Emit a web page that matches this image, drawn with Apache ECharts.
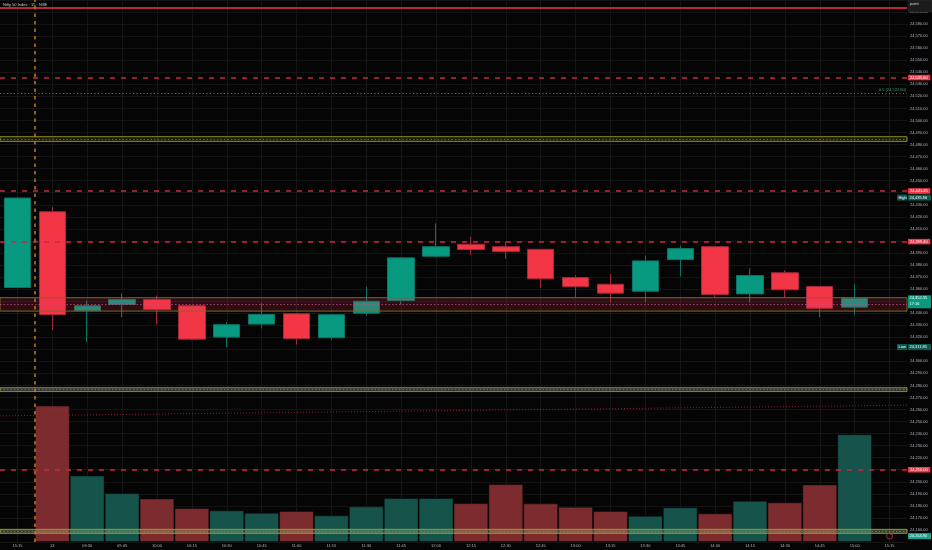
<!DOCTYPE html>
<html><head><meta charset="utf-8">
<script src="https://cdn.jsdelivr.net/npm/echarts@6/dist/echarts.min.js"></script>
<style>html,body{margin:0;padding:0;background:#050505;}#c{width:932px;height:550px;}</style>
</head><body><div id="c"></div>
<script>
// ---- data ----
const categories = ['12 15:15','13 09:15','13 09:30','13 09:45','13 10:00','13 10:15','13 10:30','13 10:45','13 11:00','13 11:15','13 11:30','13 11:45','13 12:00','13 12:15','13 12:30','13 12:45','13 13:00','13 13:15','13 13:30','13 13:45','13 14:00','13 14:15','13 14:30','13 14:45','13 15:00','13 15:15'];
const tickLabels = ['15:15','13','09:30','09:45','10:00','10:15','10:30','10:45','11:00','11:15','11:30','11:45','12:00','12:15','12:30','12:45','13:00','13:15','13:30','13:45','14:00','14:15','14:30','14:45','15:00','15:15'];
const open  = [24361.3, 24424.2, 24342.0, 24347.2, 24351.3, 24346.1, 24320.1, 24330.9, 24339.5, 24319.6, 24340.0, 24350.5, 24387.2, 24397.2, 24395.2, 24393.0, 24369.6, 24364.0, 24358.2, 24384.5, 24395.2, 24356.0, 24373.5, 24362.1, 24345.0];
const high  = [24435.96, 24428.4, 24350.5, 24356.6, 24354.6, 24346.5, 24332.5, 24348.6, 24339.8, 24339.0, 24362.0, 24386.2, 24414.6, 24403.5, 24399.4, 24393.3, 24371.5, 24372.3, 24387.8, 24396.1, 24395.6, 24377.0, 24375.4, 24362.5, 24364.3];
const low   = [24360.8, 24325.9, 24316.0, 24336.7, 24330.4, 24317.5, 24311.85, 24327.3, 24314.0, 24317.9, 24338.0, 24347.2, 24386.4, 24388.4, 24385.1, 24361.0, 24353.2, 24349.1, 24348.8, 24370.4, 24353.0, 24348.8, 24353.0, 24336.7, 24338.7];
const close = [24435.6, 24338.7, 24346.1, 24351.3, 24343.0, 24318.4, 24330.4, 24338.9, 24318.8, 24338.7, 24349.9, 24385.9, 24395.2, 24392.8, 24391.1, 24368.5, 24361.9, 24356.6, 24383.4, 24393.6, 24355.5, 24371.2, 24359.4, 24344.1, 24352.35];
const volume = [null, 1367, 667, 490, 437, 340, 317, 293, 310, 267, 357, 440, 440, 390, 580, 387, 353, 310, 263, 347, 287, 413, 397, 577, 1080];
const redLevels = [24535.6, 24441.45, 24399.4, 24210.0];
const topLevel = 24593.8;
const fibLevel = 24522.6;
const fibText = '0.5 (24,522.60)';
const zones = [[24486.5, 24482.6], [24352.8, 24341.7], [24278.1, 24274.9], [24160.5, 24157.2]];
const trend = [[-0.5, 24254.7], [25.5, 24263.6]];
const sessionBreak = 0.5;
const highTag = 24435.96, lowTag = 24311.85, lastPrice = 24352.35, countdown = '17:16';
const bottomTag = 24154.9;
const titleText = 'Nifty 50 Index · 15 · NSE';

// ---- chart ----
const FONT = 'Liberation Sans';
const fmt = v => Number(v).toLocaleString('en-US', {minimumFractionDigits: 2, maximumFractionDigits: 2});
const UP = '#089981', DOWN = '#f23645';
const chart = echarts.init(document.getElementById('c'));

const candleData = open.map((o, i) => [o, close[i], low[i], high[i]]);
const volData = volume.map((v, i) => v == null ? '-' : {
  value: v,
  itemStyle: {color: close[i] >= open[i] ? '#16534b' : '#7c2b2e'}
});

const zoneStyles = [
  {color: 'rgba(140,150,40,0.16)', borderColor: '#8c8a2a'},
  {color: 'rgba(242,54,100,0.17)', borderColor: '#7d6a1c'},
  {color: 'rgba(150,150,150,0.33)', borderColor: '#8c8a2a'},
  {color: 'rgba(170,200,120,0.28)', borderColor: '#9a9a2a'}
];
const midColors = ['rgba(150,150,60,0.6)', 'rgba(200,80,110,0.75)', 'rgba(120,120,120,0.8)', 'rgba(120,140,80,0.8)'];

const option = {
  backgroundColor: '#050505',
  animation: false,
  grid: {left: -3, right: 25, top: -1, bottom: 8},
  xAxis: [{
    type: 'category', data: categories, boundaryGap: true,
    axisLine: {show: false}, axisTick: {show: false, alignWithLabel: true},
    axisLabel: {interval: 0, fontSize: 4, color: '#b2b5be', margin: 2, fontFamily: FONT,
      formatter: (v, i) => tickLabels[i]},
    splitLine: {show: true, alignWithLabel: true, interval: 0, lineStyle: {color: '#151515', width: 1}}
  }, {
    type: 'value', min: -0.5, max: 25.5, show: false
  }],
  yAxis: [{
    type: 'value', position: 'right', min: 24150, max: 24600, interval: 10, scale: true,
    axisLine: {show: false}, axisTick: {show: false},
    axisLabel: {fontSize: 4, color: '#b2b5be', margin: 3, fontFamily: FONT, formatter: v => fmt(v),
      showMinLabel: false, showMaxLabel: false},
    splitLine: {lineStyle: {color: '#141414', width: 1}}
  }, {
    type: 'value', min: 0, max: 5430, show: false
  }],
  series: [{
    type: 'bar', name: 'Volume', xAxisIndex: 0, yAxisIndex: 1, data: volData,
    barWidth: '100%', z: 1,
    itemStyle: {borderColor: 'rgba(0,0,0,0.45)', borderWidth: 1}
  }, {
    type: 'candlestick', name: 'NIFTY', xAxisIndex: 0, yAxisIndex: 0, data: candleData,
    barWidth: '77%', z: 2,
    itemStyle: {color: UP, color0: DOWN, borderColor: '#0a7565', borderColor0: '#a3283a', borderWidth: 1}
  }, {
    type: 'line', name: 'zones', xAxisIndex: 0, yAxisIndex: 0, data: [], z: 3,
    markArea: {silent: true, z: 3, data: zones.map((z, i) => [
      {yAxis: z[0], itemStyle: {color: zoneStyles[i].color, borderColor: zoneStyles[i].borderColor, borderWidth: 1}},
      {yAxis: z[1]}
    ])},
    markLine: {silent: true, symbol: ['none', 'none'], z: 4, label: {show: false},
      data: zones.map((z, i) => ({yAxis: (z[0] + z[1]) / 2,
        lineStyle: {color: midColors[i], type: [1.5, 2], width: 1}}))}
  }, {
    type: 'line', name: 'levels', xAxisIndex: 0, yAxisIndex: 0, data: [], z: 4,
    markLine: {silent: true, symbol: ['none', 'none'], z: 6,
      data: [
        {yAxis: topLevel, lineStyle: {color: '#b8283a', type: 'solid', width: 2}, label: {show: false}},
        {yAxis: fibLevel, lineStyle: {color: '#3f8f5f', type: [1, 2.5], width: 1},
          label: {show: true, position: 'insideEndTop', formatter: fibText, color: '#4f9f6f', fontSize: 4, fontFamily: FONT, distance: 1}},
        ...redLevels.map(v => ({yAxis: v, lineStyle: {color: '#c92a3c', type: [5, 6], width: 1.5},
          label: {show: true, position: 'end', distance: 1, formatter: fmt(v), color: '#ffffff',
            backgroundColor: DOWN, fontSize: 4, fontFamily: FONT, padding: [1, 2.5, 0.5, 2]}}))
      ]}
  }, {
    type: 'line', name: 'trend', xAxisIndex: 1, yAxisIndex: 0, data: trend, z: 4,
    symbol: 'none', lineStyle: {color: '#8e1d2a', type: [1, 2], width: 1},
    markLine: {silent: true, symbol: ['none', 'none'], z: 6, label: {show: false},
      data: [{xAxis: sessionBreak, lineStyle: {color: '#c27a20', type: [3.5, 4], width: 1.5}}]}
  }]
};
chart.setOption(option);

// ---- price tags and UI (positions from the axes) ----
const py = v => chart.convertToPixel({yAxisIndex: 0}, v);
const AX = chart.convertToPixel({xAxisIndex: 1}, 25.5);
const els = [];
function tag(v, text, fill, prefix) {
  const y = py(v);
  els.push({type: 'rect', z: 100, shape: {x: AX + 1, y: y - 3, width: 23, height: 6}, style: {fill}});
  els.push({type: 'text', z: 101, x: AX + 2.5, y: y, style: {text, fill: '#ffffff', fontSize: 4, fontFamily: FONT, verticalAlign: 'middle'}});
  if (prefix) {
    els.push({type: 'rect', z: 100, shape: {x: AX - 10, y: y - 3, width: 10, height: 6}, style: {fill}});
    els.push({type: 'text', z: 101, x: AX - 8.5, y: y, style: {text: prefix, fill: '#ffffff', fontSize: 4, fontFamily: FONT, verticalAlign: 'middle'}});
  }
}
tag(highTag, fmt(highTag), '#0e5a50', 'High');
tag(lowTag, fmt(lowTag), '#0e5a50', 'Low');
tag(bottomTag, fmt(bottomTag), '#17a38d');
// current price with countdown
(function () {
  const y = py(lastPrice);
  els.push({type: 'rect', z: 100, shape: {x: AX + 1, y: y - 3, width: 23, height: 13}, style: {fill: UP}});
  els.push({type: 'text', z: 101, x: AX + 2.5, y: y, style: {text: fmt(lastPrice), fill: '#ffffff', fontSize: 4, fontFamily: FONT, verticalAlign: 'middle'}});
  els.push({type: 'text', z: 101, x: AX + 2.5, y: y + 6, style: {text: countdown, fill: '#ffffff', fontSize: 4, fontFamily: FONT, verticalAlign: 'middle'}});
})();
// "point" box
els.push({type: 'rect', z: 100, shape: {x: AX + 1, y: 0, width: 24, height: 12}, style: {fill: '#1b1b1b', stroke: '#333333', lineWidth: 0.5}});
els.push({type: 'text', z: 101, x: AX + 3, y: 4, style: {text: 'point', fill: '#d1d4dc', fontSize: 4, fontFamily: FONT, verticalAlign: 'middle'}});
// title
els.push({type: 'text', z: 101, x: 3, y: 5, style: {text: titleText, fill: '#c8c8c8', fontSize: 4, fontFamily: FONT, verticalAlign: 'middle'}});
// small icon at bottom
(function () {
  const x = chart.convertToPixel({xAxisIndex: 1}, 25);
  els.push({type: 'circle', z: 101, shape: {cx: x, cy: 536, r: 3}, style: {fill: 'none', stroke: '#b04050', lineWidth: 0.8}});
  els.push({type: 'circle', z: 101, shape: {cx: x + 1.5, cy: 534, r: 0.8}, style: {fill: '#e04050'}});
})();
chart.setOption({graphic: {elements: els}});
</script>
</body></html>
